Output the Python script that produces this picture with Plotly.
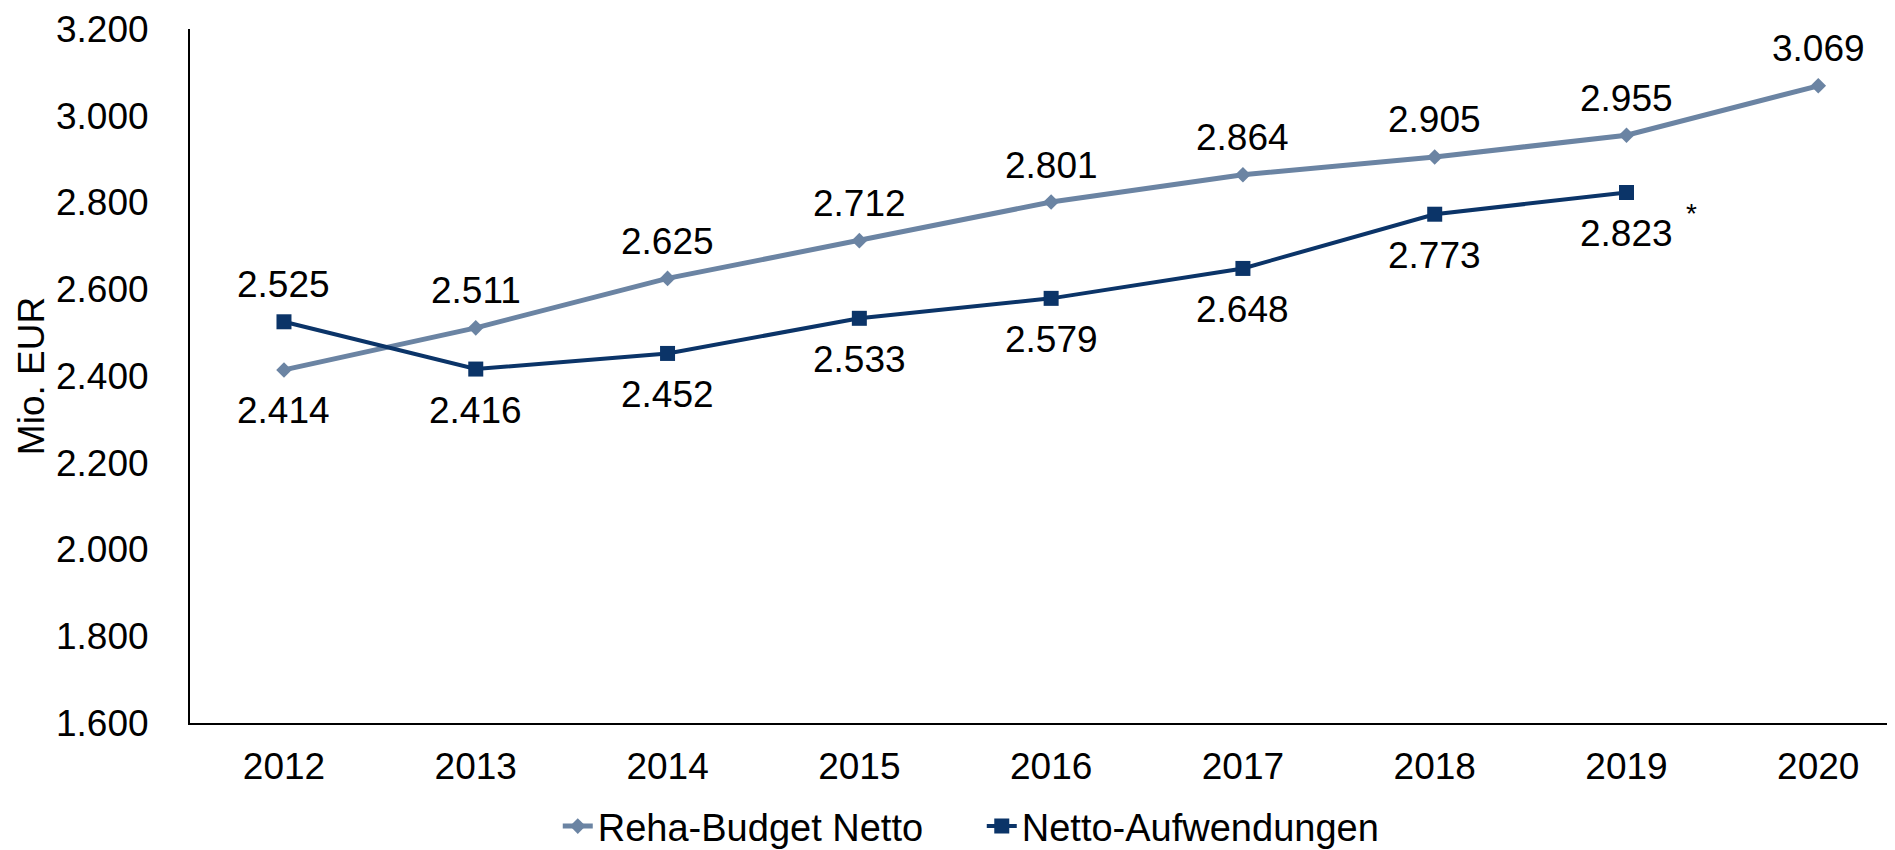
import plotly.graph_objects as go

years = ["2012", "2013", "2014", "2015", "2016", "2017", "2018", "2019", "2020"]
reha_budget = [2414, 2511, 2625, 2712, 2801, 2864, 2905, 2955, 3069]
netto_aufw = [2525, 2416, 2452, 2533, 2579, 2648, 2773, 2823]
y_ticks = [1600, 1800, 2000, 2200, 2400, 2600, 2800, 3000, 3200]

# label placement: +1 above the point, -1 below
reha_side = [-1, 1, 1, 1, 1, 1, 1, 1, 1]
netto_side = [1, -1, -1, -1, -1, -1, -1, -1]

FONT = "Liberation Sans, Arial, sans-serif"
FS = 37
C_LIGHT = "#6b84a3"
C_DARK = "#0b3468"


def fmt(v):
    return f"{v:,}".replace(",", ".")


def shift(side):
    return 37 if side > 0 else -41


fig = go.Figure()
fig.add_trace(go.Scatter(
    x=years, y=reha_budget, name="Reha-Budget Netto", mode="lines+markers",
    line=dict(color=C_LIGHT, width=5),
    marker=dict(symbol="diamond", size=12, color=C_LIGHT),
))
fig.add_trace(go.Scatter(
    x=years[:len(netto_aufw)], y=netto_aufw, name="Netto-Aufwendungen", mode="lines+markers",
    line=dict(color=C_DARK, width=4),
    marker=dict(symbol="square", size=15, color=C_DARK),
))

annotations = []
for i, (v, s) in enumerate(zip(reha_budget, reha_side)):
    annotations.append(dict(x=i, y=v, xref="x", yref="y", text=fmt(v), showarrow=False,
                            yshift=shift(s), font=dict(family=FONT, size=FS, color="black")))
for i, (v, s) in enumerate(zip(netto_aufw, netto_side)):
    annotations.append(dict(x=i, y=v, xref="x", yref="y", text=fmt(v), showarrow=False,
                            yshift=shift(s), font=dict(family=FONT, size=FS, color="black")))
annotations.append(dict(x=len(netto_aufw) - 1, y=netto_aufw[-1], xref="x", yref="y", text="*",
                        showarrow=False, xshift=65, yshift=-21,
                        font=dict(family=FONT, size=28, color="black")))

fig.update_layout(
    width=1887, height=842,
    margin=dict(l=182, r=0, t=21, b=127, autoexpand=False),
    paper_bgcolor="white", plot_bgcolor="white",
    font=dict(family=FONT, size=FS, color="black"),
    separators=",.",
    showlegend=True,
    legend=dict(orientation="h", x=0.2157, xanchor="left", y=-0.149, yanchor="middle",
                entrywidth=379,
                font=dict(family=FONT, size=38, color="black"), bgcolor="rgba(0,0,0,0)"),
    annotations=annotations,
    xaxis=dict(type="category", range=[-0.49, 8.40], showline=True, linecolor="black", linewidth=2,
               showgrid=False, zeroline=False, ticks="outside", ticklen=0, ticklabelstandoff=10,
               tickfont=dict(family=FONT, size=FS, color="black")),
    yaxis=dict(range=[1600, 3200], tickvals=y_ticks, tickformat=",d", showline=True, linecolor="black",
               linewidth=2, showgrid=False, zeroline=False, ticks="outside", ticklen=0,
               ticklabelstandoff=32, tickfont=dict(family=FONT, size=FS, color="black"),
               title=dict(text="Mio. EUR", standoff=0, font=dict(family=FONT, size=FS, color="black"))),
)

fig.write_html("out.html")
